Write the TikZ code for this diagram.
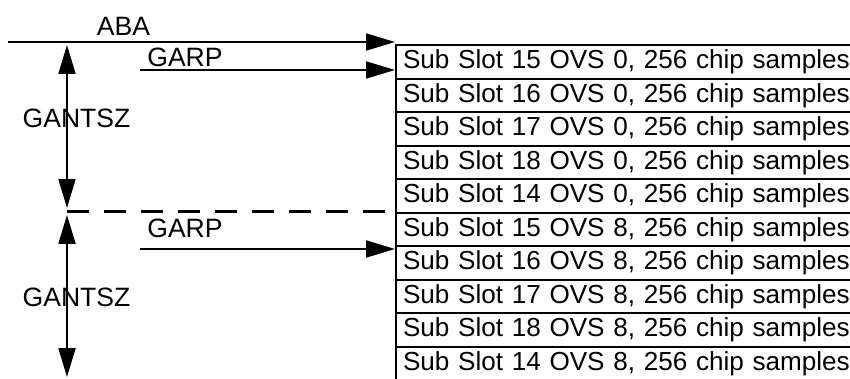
\documentclass[tikz,border=0pt]{standalone}
\usepackage{fontspec}
\setmainfont{Liberation Sans}
\usetikzlibrary{arrows.meta}

\tikzset{
  tip/.style={-{Triangle[length=16.4pt,width=9.6pt]}},
  twotip/.style={{Triangle[length=16.4pt,width=9.6pt]}-{Triangle[length=16.4pt,width=9.6pt]}},
  slot/.style={draw, anchor=north west, minimum height=0.67cm, text width=10cm,
    align=left, inner xsep=0.14cm, inner ysep=0pt, font=\fontsize{14.85}{17}\selectfont},
  lbl/.style={inner sep=0pt}
}

\begin{document}
\begin{tikzpicture}[line width=1.2pt, font=\fontsize{15.1}{18}\selectfont]
  \clip (0,0) rectangle (17,-7.56);
  % slot boxes — OVS 0 on top, OVS 8 below; right edge runs off the page
  \foreach \sub [count=\i] in {15,16,17,18,14} {
    \node[slot] (a\i) at (7.9,{-0.88-0.67*(\i-1)}) {Sub Slot \sub{} OVS 0, 256 chip samples};
    \node[slot] (b\i) at (7.9,{-0.88-0.67*(\i+4)}) {Sub Slot \sub{} OVS 8, 256 chip samples};
  }
  % ABA — full-width arrow to the first slot
  \coordinate (abaL) at (0.16,-0.84);
  \draw[tip] (abaL) -- (abaL -| a1.west);
  \node[lbl] (aba) at (2.47,-0.52) {ABA};
  % GARP arrows
  \coordinate (garpA) at (2.8,-1.4);
  \draw[tip] (garpA) -- (garpA -| a1.west);
  \node[lbl] (garp1) at (3.7,-1.15) {GARP};
  \coordinate (garpB) at (2.8,-4.98);
  \draw[tip] (garpB) -- (garpB -| b1.west);
  \node[lbl] (garp2) at (3.7,-4.56) {GARP};
  % GANTSZ spans, split by the dashed line
  \coordinate (g1t) at (1.34,-0.9);
  \coordinate (g1b) at (1.34,-4.16);
  \coordinate (g2t) at (1.34,-4.3);
  \coordinate (g2b) at (1.34,-7.54);
  \node[lbl] (gan1) at (1.53,-2.37) {GANTSZ};
  \node[lbl] (gan2) at (1.53,-5.94) {GANTSZ};
  \draw[twotip] (g1t) -- (g1b);
  \draw[twotip] (g2t) -- (g2b);
  \coordinate (midL) at (1.34,-4.23);
  \draw[dash pattern=on 0.44cm off 0.3cm] (midL) -- (midL -| a5.west);
\end{tikzpicture}
\end{document}
